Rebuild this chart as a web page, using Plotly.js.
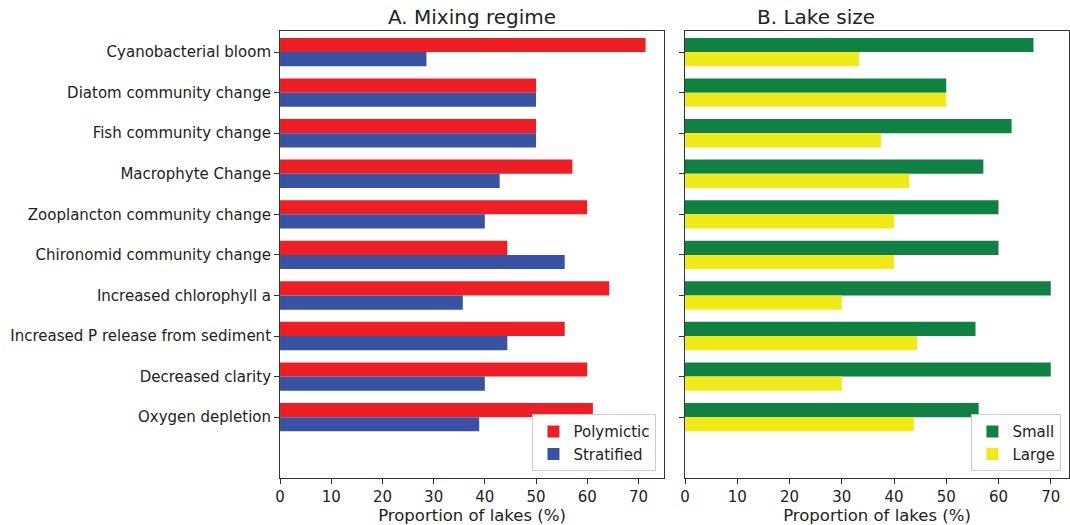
<!DOCTYPE html>
<html>
<head>
<meta charset="utf-8">
<script src="https://cdn.plot.ly/plotly-3.0.1.min.js"></script>
<style>html,body{margin:0;padding:0;background:#fff;}#chart{width:1070px;height:525px;}</style>
</head>
<body>
<div id="chart"></div>
<script>
const categories = [
  "Cyanobacterial bloom",
  "Diatom community change",
  "Fish community change",
  "Macrophyte Change",
  "Zooplancton community change",
  "Chironomid community change",
  "Increased chlorophyll a",
  "Increased P release from sediment",
  "Decreased clarity",
  "Oxygen depletion"
];
const polymictic = [71.4, 50, 50, 57.1, 60, 44.4, 64.3, 55.6, 60, 61.1];
const stratified = [28.6, 50, 50, 42.9, 40, 55.6, 35.7, 44.4, 40, 38.9];
const small = [66.7, 50, 62.5, 57.1, 60, 60, 70, 55.6, 70, 56.2];
const large = [33.3, 50, 37.5, 42.9, 40, 40, 30, 44.4, 30, 43.8];
const xTicks = [0, 10, 20, 30, 40, 50, 60, 70];

const font = {family: "DejaVu Sans, sans-serif", size: 15, color: "#222"};
const titleFont = {family: "DejaVu Sans, sans-serif", size: 16.5, color: "#222"};
const idx = categories.map((c, i) => i);

function bar(name, x, color, xa, ya, leg) {
  return {type: "bar", orientation: "h", name: name, x: x, y: idx,
    xaxis: xa, yaxis: ya, legend: leg,
    marker: {color: color, line: {width: 0}}, hoverinfo: "x+name"};
}

const traces = [
  bar("Polymictic", polymictic, "#ed1f24", "x", "y", "legend"),
  bar("Stratified", stratified, "#3953a4", "x", "y", "legend"),
  bar("Small", small, "#108043", "x2", "y2", "legend2"),
  bar("Large", large, "#f1ea19", "x2", "y2", "legend2")
];

const axisCommon = {showgrid: false, zeroline: false, showline: true, linecolor: "#333", linewidth: 1,
  mirror: true, ticks: "outside", ticklen: 5, tickcolor: "#333", tickfont: font};

const layout = {
  width: 1070, height: 525,
  margin: {l: 0, r: 0, t: 31, b: 47},
  paper_bgcolor: "#fff", plot_bgcolor: "#fff",
  font: font,
  barmode: "group", bargap: 0.3, bargroupgap: 0,
  xaxis: Object.assign({}, axisCommon, {domain: [0.2617, 0.6206], range: [0, 75],
    tickvals: xTicks, ticktext: xTicks.map(String),
    title: {text: "Proportion of lakes (%)", font: titleFont, standoff: 2}}),
  yaxis: Object.assign({}, axisCommon, {anchor: "x", range: [10.5, -0.52],
    tickvals: idx, ticktext: categories, domain: [0, 1]}),
  xaxis2: Object.assign({}, axisCommon, {domain: [0.6402, 0.9991], range: [0, 73.5], anchor: "y2",
    tickvals: xTicks, ticktext: xTicks.map(String),
    title: {text: "Proportion of lakes (%)", font: titleFont, standoff: 2}}),
  yaxis2: Object.assign({}, axisCommon, {anchor: "x2", range: [10.5, -0.52],
    tickvals: idx, showticklabels: false, domain: [0, 1]}),
  legend: {x: 0.6135, xanchor: "right", y: 0.015, yanchor: "bottom", bgcolor: "#fff",
    bordercolor: "#ccc", borderwidth: 1, font: font, traceorder: "normal", tracegroupgap: 0},
  legend2: {x: 0.992, xanchor: "right", y: 0.015, yanchor: "bottom", bgcolor: "#fff",
    bordercolor: "#ccc", borderwidth: 1, font: font, traceorder: "normal", tracegroupgap: 0},
  annotations: [
    {text: "A. Mixing regime", xref: "paper", yref: "paper", x: 0.4412, y: 1, yanchor: "bottom",
      yshift: 0, showarrow: false, font: {family: font.family, size: 20, color: "#222"}},
    {text: "B. Lake size", xref: "paper", yref: "paper", x: 0.8197, y: 1, yanchor: "bottom",
      yshift: 0, showarrow: false, font: {family: font.family, size: 20, color: "#222"}}
  ]
};

Plotly.newPlot("chart", traces, layout, {displayModeBar: false, staticPlot: true});
</script>
</body>
</html>
